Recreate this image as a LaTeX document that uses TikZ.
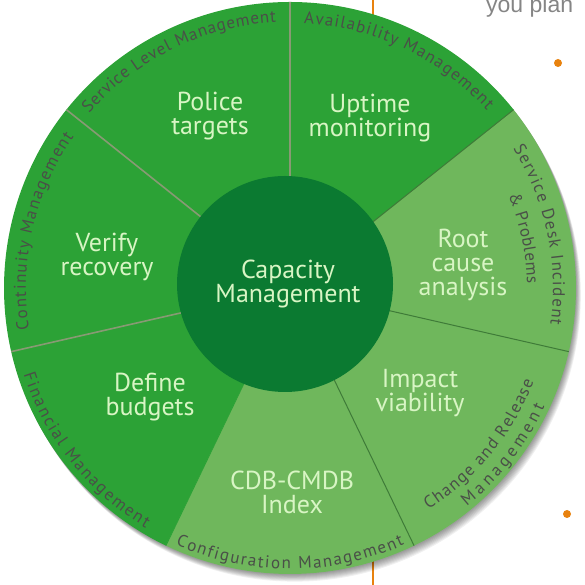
\documentclass[tikz,border=0pt]{standalone}
\usepackage{fontspec}
\setmainfont{PT Sans}
\newfontfamily\youfont{Liberation Sans}
\usetikzlibrary{decorations.text}
\definecolor{midgreen}{HTML}{2CA236}
\definecolor{lightgreen}{HTML}{6FB75C}
\definecolor{darkgreen}{HTML}{0B7A31}
\definecolor{labeltext}{HTML}{D8F5C4}
\definecolor{arcgray}{HTML}{4A4F48}
\definecolor{midline}{HTML}{889A74}
\definecolor{lightline}{HTML}{3F7B38}
\definecolor{orangeline}{HTML}{E8820E}
\definecolor{yougray}{HTML}{858585}
\newcommand\arcfnt{\fontsize{17}{17}\selectfont}
\tikzset{
  seclabel/.style={text=labeltext, align=center, font=\fontsize{26}{24}\selectfont},
  arcfit/.style={decorate, decoration={text along path, text color=arcgray, text align={fit to path}, text={|\arcfnt|#1}}},
}
\begin{document}
\begin{tikzpicture}[x=1pt,y=1pt]
\useasboundingbox (0,0) rectangle (584,585);
\coordinate (C) at (290,297);
\coordinate (I) at (285,301);
% background text and marks
\draw[orangeline, line width=2pt] (373,585) coordinate (ot) -- (373,0) coordinate (ob);
\fill[orangeline] (558,522) circle (4);
\fill[orangeline] (567,71) circle (4);
\node[anchor=base west, inner sep=0pt, text=yougray, font=\youfont\fontsize{23}{23}\selectfont] (you) at (486,572) {you plan};
% shadow
\foreach \t in {1,...,8}{
  \fill[black, opacity=0.06] ([shift={(0.6*\t,-0.95*\t)}]C) circle (286);
}
% sectors
\foreach \a/\col in {90/midgreen, 141.43/midgreen, 192.86/midgreen, 244.29/lightgreen, 295.71/lightgreen, 347.14/lightgreen, 398.57/midgreen}{
  \fill[\col] (C) -- ([shift={(\a:286)}]C) arc[start angle=\a, end angle=\a+51.43, radius=286] -- cycle;
}
% boundaries
\foreach \a/\col/\w in {90/midline/1.6, 141.43/midline/1.6, 192.86/midline/1.6, 244.29/midgreen/0.8, 295.71/lightline/1, 347.14/lightline/1, 38.57/lightline/1}{
  \draw[\col, line width=\w pt] ([shift={(\a:100)}]C) -- ([shift={(\a:286)}]C);
}
% center
\fill[darkgreen] (I) circle (108);
\node[seclabel] (cap) at (288,301) {Capacity\\Management};
% sector labels
\node[seclabel] (police) at (210,469) {Police\\targets};
\node[seclabel] (uptime) at (370,467) {Uptime\\monitoring};
\node[seclabel] (root) at (463,320) {Root\\cause\\analysis};
\node[seclabel] (impact) at (420,192) {Impact\\viability};
\node[seclabel] (cdb) at (292,93) {CDB-CMDB\\Index};
\node[seclabel] (define) at (150,188) {Define\\budgets};
\node[seclabel] (verify) at (107,328) {Verify\\recovery};
% arc texts (top half: clockwise, tops outward)
\path[arcfit={Service Level Management}] ([shift={(139:266)}]C) arc[start angle=139, end angle=93, radius=266];
\path[arcfit={Availability Management}] ([shift={(87:265)}]C) arc[start angle=87, end angle=42, radius=265];
\path[arcfit={Service Desk Incident}] ([shift={(32:263)}]C) arc[start angle=32, end angle=-8, radius=263];
\path[arcfit={{\&} Problems}] ([shift={(23:237)}]C) arc[start angle=23, end angle=1, radius=237];
\path[arcfit={Continuity Management}] ([shift={(189:264)}]C) arc[start angle=189, end angle=145, radius=264];
% arc texts (bottom half: counter-clockwise, tops inward)
\path[arcfit={Financial Management}] ([shift={(198:280)}]C) arc[start angle=198, end angle=239, radius=280];
\path[arcfit={Configuration Management}] ([shift={(246:281)}]C) arc[start angle=246, end angle=294, radius=281];
\path[arcfit={Change and Release}] ([shift={(302:261)}]C) arc[start angle=302, end angle=339, radius=261];
\path[arcfit={Management}] ([shift={(309:281)}]C) arc[start angle=309, end angle=335, radius=281];
\end{tikzpicture}
\end{document}
